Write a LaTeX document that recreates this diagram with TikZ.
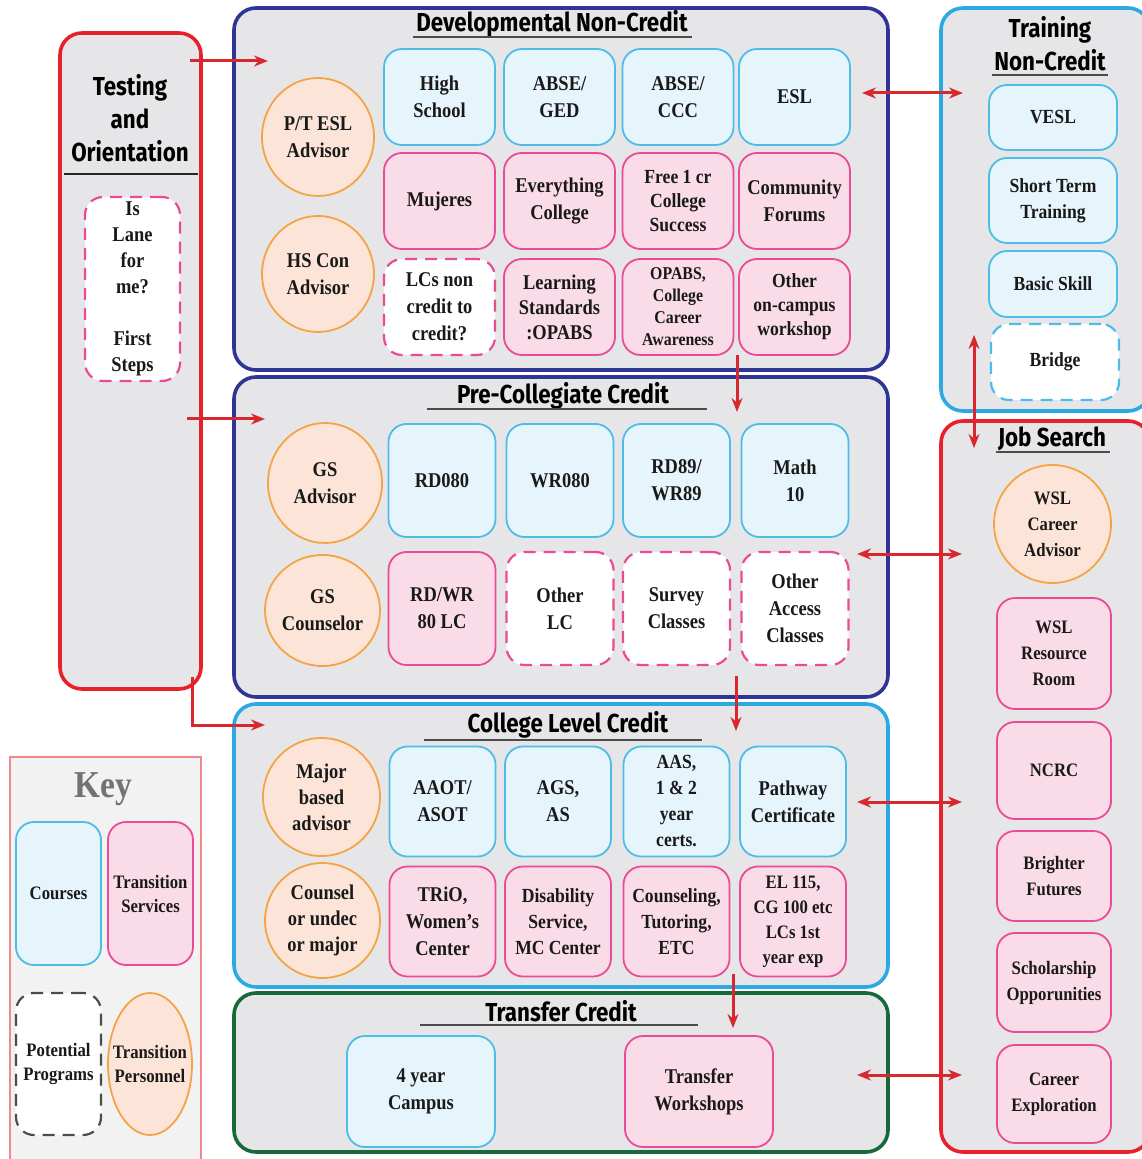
\documentclass[tikz,border=0pt]{standalone}
\usepackage{fontspec}
\setmainfont{Liberation Serif}[FakeStretch=0.88]
\newfontfamily\titlefont{Fira Sans}[FakeStretch=0.86]
\usetikzlibrary{arrows.meta,shapes.geometric}
\definecolor{cBlueLine}{HTML}{4DBDE8}
\definecolor{cBlueFill}{HTML}{E6F5FC}
\definecolor{cPinkLine}{HTML}{EC4A97}
\definecolor{cPinkFill}{HTML}{FADCE8}
\definecolor{cOrLine}{HTML}{F5A445}
\definecolor{cOrFill}{HTML}{FCE5D8}
\definecolor{cPanel}{HTML}{E6E6E8}
\definecolor{cNavy}{HTML}{2E3592}
\definecolor{cRed}{HTML}{E8202A}
\definecolor{cSky}{HTML}{2CA9E1}
\definecolor{cGreen}{HTML}{17693A}
\definecolor{cArrow}{HTML}{D7282F}
\definecolor{cKeyLine}{HTML}{F08A8A}
\tikzset{
  boxnode/.style = {align=center, inner sep=0pt, text centered, text=black!90,
                    font=\bfseries\fontsize{10.5}{13.5}\selectfont},
  box_C/.style = {boxnode, rectangle, rounded corners=9pt, draw=cBlueLine, fill=cBlueFill, line width=0.9pt},
  box_T/.style = {boxnode, rectangle, rounded corners=9pt, draw=cPinkLine, fill=cPinkFill, line width=0.9pt},
  box_P/.style = {boxnode, rectangle, rounded corners=9pt, draw=cPinkLine, fill=white, line width=1.1pt,
                  dash pattern=on 6pt off 4pt},
  per_O/.style = {boxnode, ellipse, draw=cOrLine, fill=cOrFill, line width=0.9pt},
  panel/.style = {rectangle, rounded corners=11pt, fill=cPanel, line width=1.8pt},
  head_T/.style = {font=\titlefont\bfseries\fontsize{13}{16.5}\selectfont, align=center, inner sep=0pt},
  rule_U/.style = {draw=black!70, line width=1pt},
  link/.style = {draw=cArrow, line width=1.5pt},
  % cell sizes of each panel
  dev_cell/.style = {minimum width=55.5pt, minimum height=48pt},
  pre_cell/.style = {minimum width=53.5pt, minimum height=56.5pt},
  col_cell/.style = {minimum width=53pt, minimum height=55pt},
  job_cell/.style = {minimum width=57pt, font=\bfseries\fontsize{9.5}{13}\selectfont},
  trn_cell/.style = {minimum width=64pt, font=\bfseries\fontsize{10}{13}\selectfont},
  key_text/.style = {align=center, inner sep=0pt, text=black!90, font=\bfseries\fontsize{9.5}{12}\selectfont},
  key_cell/.style = {key_text, minimum width=42.5pt, minimum height=71.5pt}
}

\begin{document}
\begin{tikzpicture}[x=0.5pt, y=-0.5pt, >={Stealth[length=7pt,width=5.5pt]}]
  \useasboundingbox (0,0) rectangle (1141,1159);
  \fill[white] (0,0) rectangle (1141,1159);

  % Panels:
  \node [panel, draw=cRed, minimum width=70.5pt, minimum height=328pt] (test) at (130.5,361) {};
  \node [panel, draw=cNavy, minimum width=327pt, minimum height=181pt] (dev) at (561,189) {};
  \node [panel, draw=cNavy, minimum width=327pt, minimum height=160pt] (pre) at (561,537) {};
  \node [panel, draw=cSky, minimum width=327pt, minimum height=141.5pt] (col) at (561,845.5) {};
  \node [panel, draw=cGreen, minimum width=327pt, minimum height=79.5pt] (trf) at (561,1072.5) {};
  \node [panel, draw=cSky, minimum width=104.5pt, minimum height=201.5pt] (trn) at (1045.5,209.5) {};
  \node [panel, draw=cRed, minimum width=104.5pt, minimum height=365.5pt] (job) at (1045.5,786.5) {};
  \node [draw=cKeyLine, fill=black!5, line width=0.8pt, minimum width=95.5pt, minimum height=206.5pt] (key) at (105.5,963.5) {};

  % Titles:
  \node [head_T] (t_test) at (130,118) {Testing\\and\\Orientation};
  \draw [rule_U, draw=black!85] (64,174) -- (198,174);
  \node [head_T, anchor=base] (t_dev) at (552,32) {Developmental Non-Credit};
  \draw [rule_U] (413,37) -- (692,37);
  \node [head_T, anchor=base] (t_pre) at (563,404) {Pre-Collegiate Credit};
  \draw [rule_U] (427,409) -- (707,409);
  \node [head_T, anchor=base] (t_col) at (568,732) {College Level Credit};
  \draw [rule_U] (424,740) -- (702,740);
  \node [head_T, anchor=base] (t_trf) at (561,1021) {Transfer Credit};
  \draw [rule_U] (420,1025) -- (698,1025);
  \node [head_T] (t_trn) at (1050,44) {Training\\Non-Credit};
  \draw [rule_U] (992,75) -- (1108,75);
  \node [head_T, anchor=base] (t_job) at (1052,447) {Job Search};
  \draw [rule_U] (996,452) -- (1110,452);

  % Testing and Orientation:
  \node [box_P, minimum width=47.5pt, minimum height=92pt, font=\bfseries\fontsize{10.5}{13}\selectfont]
        (first) at (132.5,289) {Is\\Lane\\for\\me?\\[13pt]First\\Steps};

  % Developmental Non-Credit - advisors:
  \node [per_O, minimum width=56pt, minimum height=59pt] (ptesl) at (318,137) {P/T ESL\\Advisor};
  \node [per_O, minimum width=56pt, minimum height=58pt] (hscon) at (318,274) {HS Con\\Advisor};
  % Row 1 - courses:
  \node [box_C, dev_cell] (hs) at (439.5,97) {High\\School};
  \node [box_C, dev_cell] (ged) at (559.5,97) {ABSE/\\GED};
  \node [box_C, dev_cell] (ccc) at (678,97) {ABSE/\\CCC};
  \node [box_C, dev_cell] (esl) at (794.5,97) {ESL};
  % Row 2 - transition services:
  \node [box_T, dev_cell] (muj) at (439.5,201) {Mujeres};
  \node [box_T, dev_cell] (evc) at (559.5,201) {Everything\\College};
  \node [box_T, dev_cell, font=\bfseries\fontsize{10}{12}\selectfont] (free) at (678,201) {Free 1 cr\\College\\Success};
  \node [box_T, dev_cell] (cof) at (794.5,201) {Community\\Forums};
  % Row 3:
  \node [box_P, dev_cell] (lcs) at (439.5,307) {LCs non\\credit to\\credit?};
  \node [box_T, dev_cell, font=\bfseries\fontsize{10.5}{12.5}\selectfont] (lst) at (559.5,307) {Learning\\Standards\\:OPABS};
  \node [box_T, dev_cell, font=\bfseries\fontsize{9}{11}\selectfont] (opa) at (678,307) {OPABS,\\College\\Career\\Awareness};
  \node [box_T, dev_cell, font=\bfseries\fontsize{10}{12}\selectfont] (ocw) at (794.5,307) {Other\\on-campus\\workshop};

  % Pre-Collegiate Credit - advisors:
  \node [per_O, minimum width=57pt, minimum height=60pt] (gsa) at (325,483) {GS\\Advisor};
  \node [per_O, minimum width=57.5pt, minimum height=55.5pt] (gsc) at (322.5,610.5) {GS\\Counselor};
  % Row 1 - courses:
  \node [box_C, pre_cell] (rd) at (442,480.5) {RD080};
  \node [box_C, pre_cell] (wr) at (560,480.5) {WR080};
  \node [box_C, pre_cell] (rw) at (676.5,480.5) {RD89/\\WR89};
  \node [box_C, pre_cell] (m10) at (795,480.5) {Math\\10};
  % Row 2:
  \node [box_T, pre_cell] (rwlc) at (442,608.5) {RD/WR\\80 LC};
  \node [box_P, pre_cell] (olc) at (560,608.5) {Other\\LC};
  \node [box_P, pre_cell] (svc) at (676.5,608.5) {Survey\\Classes};
  \node [box_P, pre_cell] (oac) at (795,608.5) {Other\\Access\\Classes};

  % College Level Credit - advisors:
  \node [per_O, minimum width=58.5pt, minimum height=59pt, font=\bfseries\fontsize{10.5}{13}\selectfont]
        (mba) at (321.5,797) {Major\\based\\advisor};
  \node [per_O, minimum width=57.5pt, minimum height=57.5pt, font=\bfseries\fontsize{10.5}{13}\selectfont]
        (cum) at (322.5,920.5) {Counsel\\or undec\\or major};
  % Row 1 - courses:
  \node [box_C, col_cell] (aaot) at (442.5,801.5) {AAOT/\\ASOT};
  \node [box_C, col_cell] (ags) at (558,801.5) {AGS,\\AS};
  \node [box_C, col_cell, font=\bfseries\fontsize{10}{13}\selectfont] (aas) at (676.5,801.5) {AAS,\\1 \& 2\\year\\certs.};
  \node [box_C, col_cell] (pwc) at (793,801.5) {Pathway\\Certificate};
  % Row 2 - transition services:
  \node [box_T, col_cell] (trio) at (442.5,921.5) {TRiO,\\Women’s\\Center};
  \node [box_T, col_cell, font=\bfseries\fontsize{10}{13}\selectfont] (dis) at (558,921.5) {Disability\\Service,\\MC Center};
  \node [box_T, col_cell, font=\bfseries\fontsize{10}{13}\selectfont] (cnt) at (676.5,921.5) {Counseling,\\Tutoring,\\ETC};
  \node [box_T, col_cell, font=\bfseries\fontsize{9.5}{12.5}\selectfont] (el) at (793,921.5) {EL 115,\\CG 100 etc\\LCs 1st\\year exp};

  % Transfer Credit:
  \node [box_C, minimum width=74pt, minimum height=55.5pt] (fyc) at (421,1091.5) {4 year\\Campus};
  \node [box_T, minimum width=74pt, minimum height=55.5pt] (tws) at (699,1091.5) {Transfer\\Workshops};

  % Training Non-Credit:
  \node [box_C, trn_cell, minimum height=32.5pt] (vesl) at (1053,117.5) {VESL};
  \node [box_C, trn_cell, minimum height=42.5pt] (stt) at (1053,200.5) {Short Term\\Training};
  \node [box_C, trn_cell, minimum height=33pt] (bsk) at (1053,284) {Basic Skill};
  \node [box_P, trn_cell, draw=cBlueLine, minimum height=38pt] (brg) at (1055,362) {Bridge};

  % Job Search:
  \node [per_O, job_cell, minimum width=58.5pt, minimum height=59pt] (wca) at (1052.5,524) {WSL\\Career\\Advisor};
  \node [box_T, job_cell, minimum height=55.5pt] (wrr) at (1054,653.5) {WSL\\Resource\\Room};
  \node [box_T, job_cell, minimum height=48.5pt] (ncrc) at (1054,770.5) {NCRC};
  \node [box_T, job_cell, minimum height=45pt] (bf) at (1054,876) {Brighter\\Futures};
  \node [box_T, job_cell, minimum height=49.5pt] (sch) at (1054,982.5) {Scholarship\\Opporunities};
  \node [box_T, job_cell, minimum height=49pt] (cex) at (1054,1094) {Career\\Exploration};

  % Key:
  \node [font=\bfseries\fontsize{19}{19}\selectfont, text=black!55] (t_key) at (103,789) {Key};
  \node [box_C, key_cell] (k_c) at (58.5,893.5) {Courses};
  \node [box_T, key_cell] (k_t) at (150.5,893.5) {Transition\\Services};
  \node [box_P, key_cell, draw=black!70, minimum height=71pt] (k_p) at (58.5,1064) {Potential\\Programs};
  \node [per_O, minimum width=42pt, minimum height=71pt,
         label={[key_text]center:{Transition\\Personnel}}] (k_o) at (150,1064) {};

  % Connectors:
  \coordinate (a_td1) at (190,61);   \coordinate (a_td2) at (268,61);
  \coordinate (a_tp1) at (187,419);  \coordinate (a_tp2) at (265,419);
  \coordinate (a_tc1) at (192,677);  \coordinate (a_tc2) at (265,725);
  \coordinate (a_dp1) at (737,355);  \coordinate (a_dp2) at (737,412);
  \coordinate (a_pc1) at (736,676);  \coordinate (a_pc2) at (736,731);
  \coordinate (a_ct1) at (733,974);  \coordinate (a_ct2) at (733,1028);
  \coordinate (a_dn1) at (862,93);   \coordinate (a_dn2) at (963,93);
  \coordinate (a_pj1) at (857,554);  \coordinate (a_pj2) at (962,554);
  \coordinate (a_cj1) at (857,802);  \coordinate (a_cj2) at (962,802);
  \coordinate (a_fj1) at (857,1075); \coordinate (a_fj2) at (962,1075);
  \coordinate (a_nj1) at (974,335);  \coordinate (a_nj2) at (974,448);
  \draw [link, ->] (a_td1) -- (a_td2);
  \draw [link, ->] (a_tp1) -- (a_tp2);
  \draw [link, ->] (a_tc1) |- (a_tc2);
  \draw [link, ->] (a_dp1) -- (a_dp2);
  \draw [link, ->] (a_pc1) -- (a_pc2);
  \draw [link, ->] (a_ct1) -- (a_ct2);
  \draw [link, <->] (a_dn1) -- (a_dn2);
  \draw [link, <->] (a_pj1) -- (a_pj2);
  \draw [link, <->] (a_cj1) -- (a_cj2);
  \draw [link, <->] (a_fj1) -- (a_fj2);
  \draw [link, <->] (a_nj1) -- (a_nj2);
\end{tikzpicture}
\end{document}
